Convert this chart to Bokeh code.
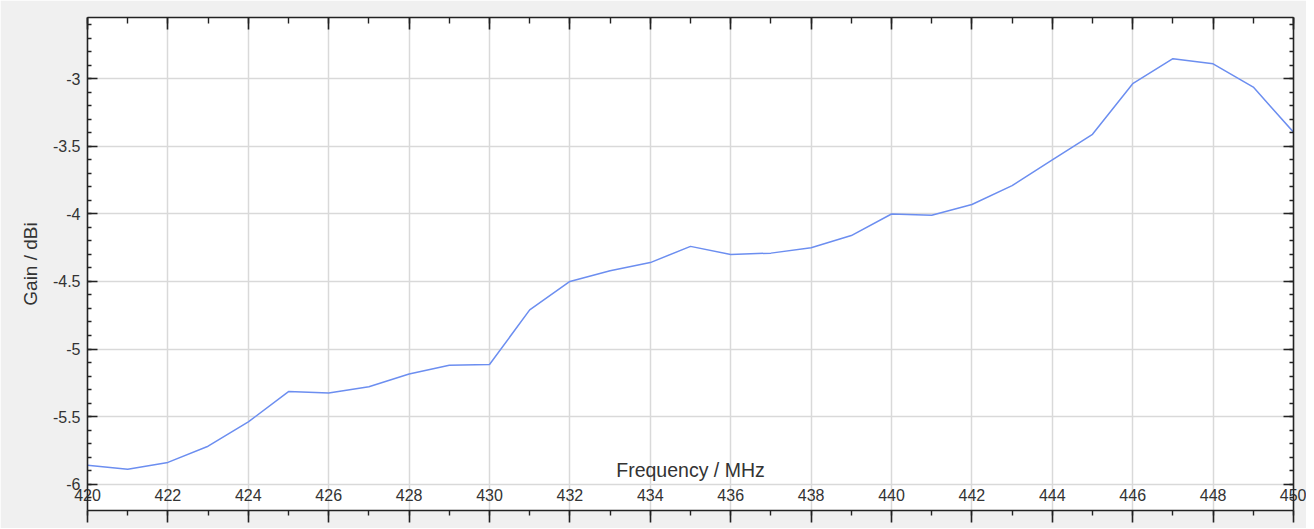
from bokeh.plotting import figure
from bokeh.models import (LinearAxis, SingleIntervalTicker, CustomJSTickFormatter,
                          Range1d, ColumnDataSource)
from bokeh.embed import file_html
from bokeh.resources import INLINE

# ---- data ----
freq_mhz = [420, 421, 422, 423, 424, 425, 426, 427, 428, 429, 430,
            431, 432, 433, 434, 435, 436, 437, 438, 439, 440,
            441, 442, 443, 444, 445, 446, 447, 448, 449, 450]
gain_dbi = [-5.86, -5.89, -5.84, -5.72, -5.54, -5.315, -5.325, -5.28, -5.185, -5.12, -5.115,
            -4.71, -4.50, -4.42, -4.36, -4.24, -4.30, -4.29, -4.25, -4.16, -4.00,
            -4.01, -3.93, -3.79, -3.60, -3.41, -3.035, -2.85, -2.888, -3.06, -3.394]
x_label = "Frequency / MHz"
y_label = "Gain / dBi"

FONT = "Liberation Sans"
TXT = "#333333"
BG = "#f0f0f0"

p = figure(width=1306, height=528, output_backend="svg", toolbar_location=None,
           x_range=Range1d(420, 450), y_range=Range1d(-6.196, -2.545),
           min_border_left=87, min_border_right=13, min_border_top=17, min_border_bottom=18,
           x_axis_location=None, y_axis_location=None)
p.border_fill_color = BG
p.background_fill_color = "white"
p.outline_line_color = None

xt = SingleIntervalTicker(interval=2, num_minor_ticks=2)
yt = SingleIntervalTicker(interval=0.5, num_minor_ticks=5)
fmt = CustomJSTickFormatter(code="return String(Math.round(tick*10)/10);")
blank = CustomJSTickFormatter(code="return '';")

def style(ax):
    ax.axis_line_color = "#222222"
    ax.axis_line_width = 1.6
    ax.major_tick_line_color = "#222222"
    ax.minor_tick_line_color = "#222222"
    ax.major_tick_line_width = 1.6
    ax.minor_tick_line_width = 1.4
    ax.major_label_text_font = FONT
    ax.major_label_text_color = TXT
    ax.axis_label_text_font = FONT
    ax.axis_label_text_color = TXT
    ax.axis_label_text_font_style = "normal"

# bottom axis: ticks outward, labels drawn inside the frame
bx = LinearAxis(ticker=xt, formatter=fmt, axis_label=x_label)
style(bx)
bx.major_tick_out = 12; bx.major_tick_in = 0
bx.minor_tick_out = 5; bx.minor_tick_in = 0
bx.major_label_text_font_size = "16px"
bx.major_label_standoff = -34
bx.axis_label_text_font_size = "19.5px"
bx.axis_label_standoff = -45
p.add_layout(bx, "below")

# left axis: ticks inward
ly = LinearAxis(ticker=yt, formatter=fmt, axis_label=y_label)
style(ly)
ly.major_tick_out = 0; ly.major_tick_in = 10
ly.minor_tick_out = 0; ly.minor_tick_in = 4
ly.major_label_text_font_size = "16px"
ly.major_label_standoff = 7
ly.axis_label_text_font_size = "19px"
ly.axis_label_standoff = 9
p.add_layout(ly, "left")

# top axis: ticks inward, no labels
tx = LinearAxis(ticker=xt, formatter=blank)
style(tx)
tx.major_tick_out = 0; tx.major_tick_in = 12
tx.minor_tick_out = 0; tx.minor_tick_in = 6
tx.major_label_text_font_size = "0px"
tx.major_label_standoff = 0
p.add_layout(tx, "above")

# right axis: ticks inward, no labels
ry = LinearAxis(ticker=yt, formatter=blank)
style(ry)
ry.major_tick_out = 0; ry.major_tick_in = 10
ry.minor_tick_out = 0; ry.minor_tick_in = 4
ry.major_label_text_font_size = "0px"
ry.major_label_standoff = 0
p.add_layout(ry, "right")

p.xgrid.ticker = xt
p.ygrid.ticker = yt
for g in (p.xgrid, p.ygrid):
    g.grid_line_color = "#d9d9d9"
    g.grid_line_width = 1.5

src = ColumnDataSource(dict(f=freq_mhz, g=gain_dbi))
p.line("f", "g", source=src, line_color="#6c8ef0", line_width=1.5)

open("out.html", "w").write(file_html(p, INLINE))
